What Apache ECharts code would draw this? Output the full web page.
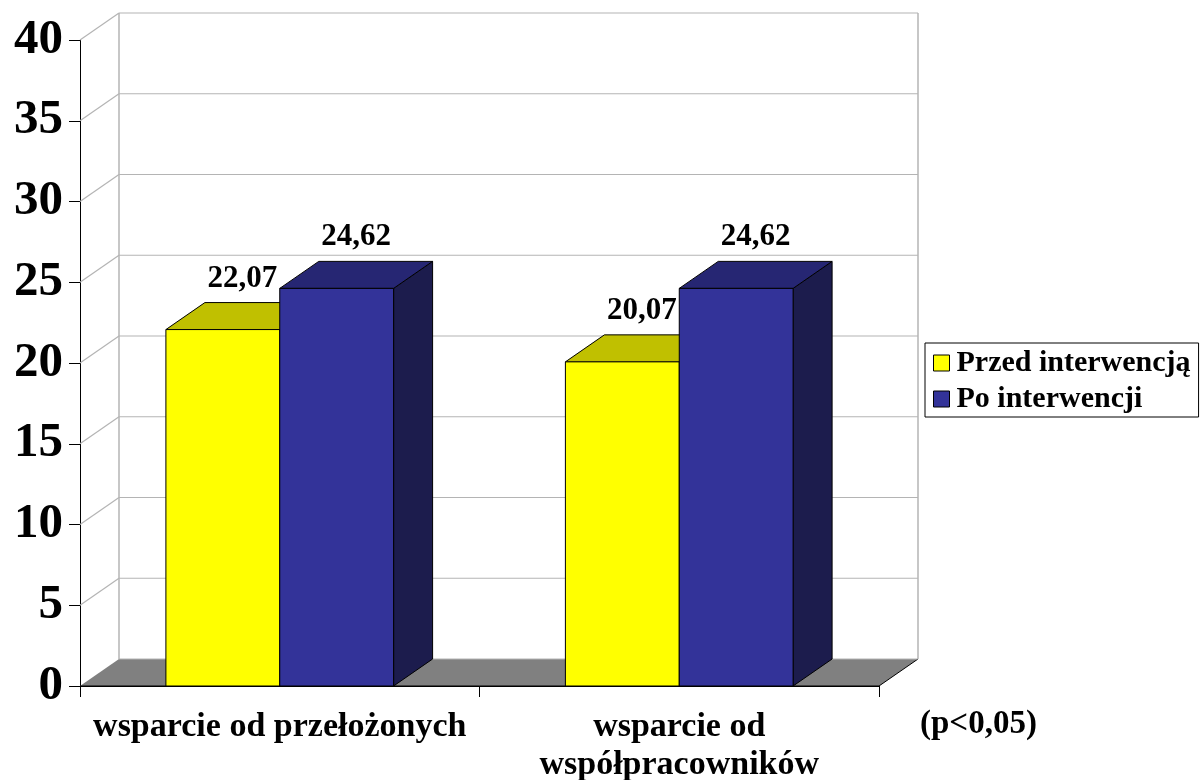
<!DOCTYPE html>
<html>
<head>
<meta charset="utf-8">
<script src="https://cdn.jsdelivr.net/npm/echarts@6/dist/echarts.min.js"></script>
<style>
  html, body { margin: 0; padding: 0; background: #fff; }
  #chart { width: 1200px; height: 780px; }
</style>
</head>
<body>
<div id="chart"></div>
<script>
// dane z wykresu
const categories = ['wsparcie od przełożonych', 'wsparcie od\nwspółpracowników'];
const seriesNames = ['Przed interwencją', 'Po interwencji'];
const beforeValues = [22.07, 20.07];
const afterValues = [24.62, 24.62];
const yTicks = [0, 5, 10, 15, 20, 25, 30, 35, 40];
const noteText = '(p<0,05)';

const FONT = '"Liberation Serif", "Times New Roman", serif';
const DX = 39, DY = 27;   // głębokość 3D

let chart = echarts.init(document.getElementById('chart'));

function fmt(v) {
    return v.toFixed(2).replace('.', ',');
}

// tylna ściana + podłoga
function renderWall(params, api) {
    const cs = params.coordSys;
    const v = api.value(1);
    const y = api.coord([0, v])[1];
    const children = [];
    const gray = '#b4b4b4';
    if (v === 0) {
        const yb = cs.y + cs.height;
        children.push({
            type: 'polygon',
            shape: { points: [[cs.x, yb], [cs.x + cs.width, yb], [cs.x + cs.width + DX, yb - DY], [cs.x + DX, yb - DY]] },
            style: { fill: '#808080', stroke: null }
        });
        children.push({
            type: 'polyline',
            shape: { points: [[cs.x, yb], [cs.x + cs.width, yb], [cs.x + cs.width + DX, yb - DY]] },
            style: { stroke: '#000', lineWidth: 1, fill: null }
        });
        // pionowe krawędzie ściany
        children.push({
            type: 'line',
            shape: { x1: cs.x + DX, y1: cs.y - DY, x2: cs.x + DX, y2: yb - DY },
            style: { stroke: gray, lineWidth: 1.5 }
        });
        children.push({
            type: 'line',
            shape: { x1: cs.x + cs.width + DX, y1: cs.y - DY, x2: cs.x + cs.width + DX, y2: yb - DY },
            style: { stroke: gray, lineWidth: 1.5 }
        });
    } else {
        children.push({
            type: 'line',
            shape: { x1: cs.x, y1: y, x2: cs.x + DX, y2: y - DY },
            style: { stroke: gray, lineWidth: 1.2 }
        });
    }
    children.push({
        type: 'line',
        shape: { x1: cs.x + DX, y1: y - DY, x2: cs.x + cs.width + DX, y2: y - DY },
        style: { stroke: gray, lineWidth: 1.2 }
    });
    return { type: 'group', children: children };
}

function makeBar(side, front, topC, sideC) {
    return function (params, api) {
        const cat = api.value(0);
        const val = api.value(1);
        const base = api.coord([cat, 0]);
        const top = api.coord([cat, val]);
        const bw = api.size([1, 0])[0] * 0.285;
        const x0 = side === 0 ? base[0] - bw : base[0];
        const x1 = x0 + bw;
        const yb = base[1], yt = top[1];
        const edge = { stroke: '#000', lineWidth: 1 };
        return {
            type: 'group',
            children: [
                {
                    type: 'polygon',
                    shape: { points: [[x1, yt], [x1 + DX, yt - DY], [x1 + DX, yb - DY], [x1, yb]] },
                    style: Object.assign({ fill: sideC }, edge)
                },
                {
                    type: 'polygon',
                    shape: { points: [[x0, yt], [x1, yt], [x1 + DX, yt - DY], [x0 + DX, yt - DY]] },
                    style: Object.assign({ fill: topC }, edge)
                },
                {
                    type: 'rect',
                    shape: { x: x0, y: yt, width: bw, height: yb - yt },
                    style: Object.assign({ fill: front }, edge)
                },
                {
                    type: 'text',
                    style: {
                        text: fmt(val),
                        x: (x0 + x1) / 2 + DX / 2,
                        y: yt - DY - 24,
                        textAlign: 'center',
                        textVerticalAlign: 'middle',
                        font: 'bold 31px ' + FONT,
                        fill: '#000'
                    }
                }
            ]
        };
    };
}

let option = {
    animation: false,
    backgroundColor: '#fff',
    grid: { left: 80, top: 40, width: 799, height: 646, outerBoundsMode: 'none', containLabel: false },
    legend: {
        orient: 'vertical',
        left: 925,
        top: 343,
        padding: [5, 8, 3, 8],
        itemGap: 6,
        itemWidth: 16,
        itemHeight: 16,
        borderColor: '#000',
        borderWidth: 1,
        backgroundColor: '#fff',
        textStyle: { fontFamily: FONT, fontWeight: 'bold', fontSize: 30, color: '#000', padding: [0, 0, 0, 2] },
        data: [
            { name: seriesNames[0], icon: 'rect', itemStyle: { color: '#FFFF00', borderColor: '#000', borderWidth: 1 } },
            { name: seriesNames[1], icon: 'rect', itemStyle: { color: '#333399', borderColor: '#000', borderWidth: 1 } }
        ]
    },
    xAxis: {
        type: 'category',
        data: categories,
        axisLine: { lineStyle: { color: '#000', width: 1 } },
        axisTick: { show: true, interval: 0, length: 11, lineStyle: { color: '#000' } },
        axisLabel: {
            interval: 0,
            margin: 22,
            fontFamily: FONT, fontWeight: 'bold', fontSize: 34, lineHeight: 38, color: '#000'
        }
    },
    yAxis: {
        type: 'value',
        min: 0,
        max: 40,
        interval: 5,
        axisLine: { show: true, lineStyle: { color: '#000', width: 1 } },
        axisTick: { show: true, length: 11, lineStyle: { color: '#000' } },
        splitLine: { show: false },
        axisLabel: {
            margin: 17,
            fontFamily: FONT, fontWeight: 'bold', fontSize: 49, color: '#000'
        }
    },
    graphic: [{
        type: 'text',
        left: 920,
        top: 708,
        style: { text: noteText, font: 'bold 33px ' + FONT, fill: '#000' }
    }],
    series: [
        {
            name: 'wall',
            type: 'custom',
            renderItem: renderWall,
            data: yTicks.map(v => [0, v]),
            encode: { x: 0, y: 1 },
            z: 1,
            silent: true
        },
        {
            name: seriesNames[0],
            type: 'custom',
            renderItem: makeBar(0, '#FFFF00', '#C0C000', '#9a9a00'),
            itemStyle: { color: '#FFFF00' },
            data: beforeValues.map((v, i) => [i, v]),
            encode: { x: 0, y: 1 },
            z: 3
        },
        {
            name: seriesNames[1],
            type: 'custom',
            renderItem: makeBar(1, '#333399', '#262673', '#1c1c4d'),
            itemStyle: { color: '#333399' },
            data: afterValues.map((v, i) => [i, v]),
            encode: { x: 0, y: 1 },
            z: 4
        }
    ]
};
chart.setOption(option);
</script>
</body>
</html>
